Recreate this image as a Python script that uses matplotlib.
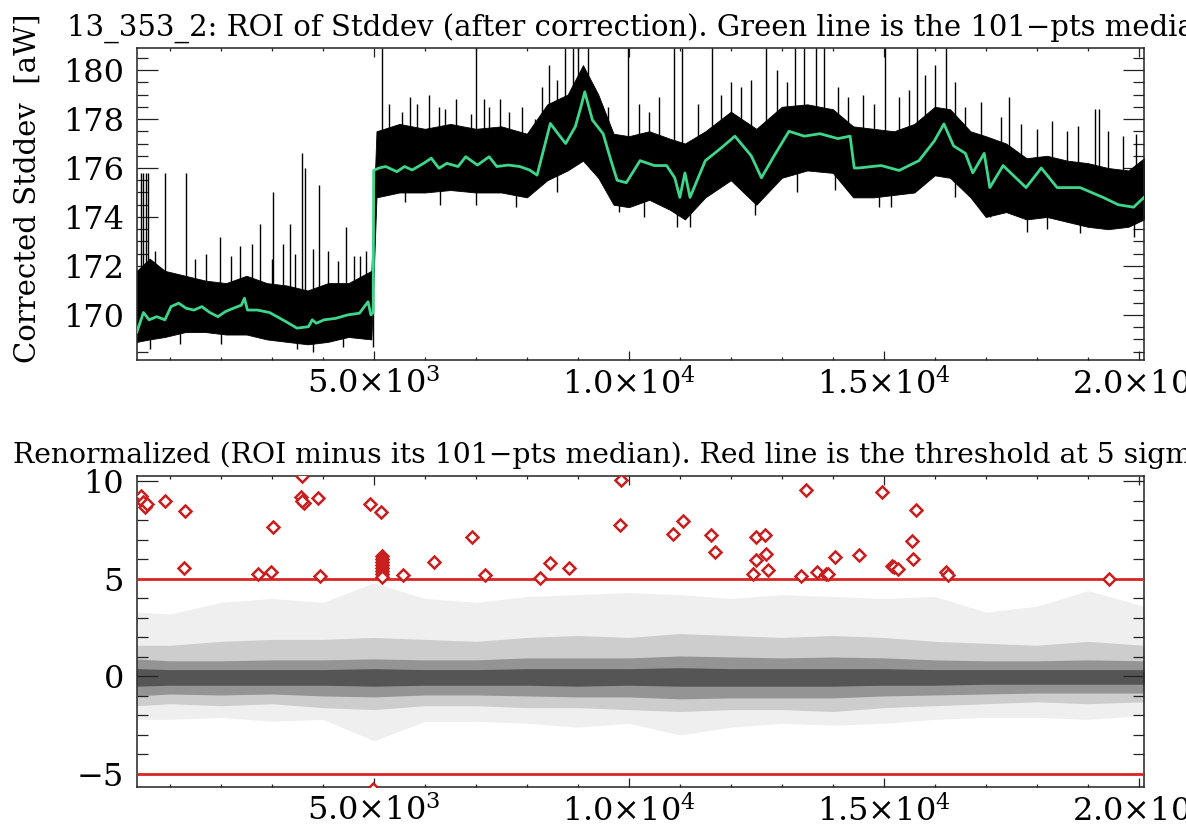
import numpy as np
import matplotlib
matplotlib.use("Agg")
import matplotlib.pyplot as plt
from matplotlib.ticker import FixedLocator, FixedFormatter, MultipleLocator

plt.rcParams['mathtext.fontset'] = 'dejavuserif'
plt.rcParams['font.family'] = 'serif'
plt.rcParams['font.serif'] = ['DejaVu Serif']

# ---------------- top panel: ROI of stddev ----------------
# 101-pts running median (green line)
med_x = [350, 480, 590, 740, 900, 1020, 1170, 1320, 1470, 1625, 1780, 1940, 2090, 2240,
         2400, 2460, 2520, 2710, 2950, 3100, 3330, 3490, 3715, 3790, 3870, 4020, 4250,
         4480, 4715, 4885, 4940, 4985, 4995, 5100, 5230, 5450, 5600, 5750, 5975, 6125,
         6275, 6430, 6650, 6800, 7030, 7260, 7410, 7635, 7860, 8050, 8200, 8310, 8460,
         8610, 8760, 8950, 9060, 9135, 9285, 9495, 9650, 9770, 9950, 10220, 10500, 10740,
         10900, 11000, 11100, 11200, 11500, 11800, 12080, 12400, 12600, 12850, 13140,
         13440, 13750, 14100, 14340, 14420, 14500, 14950, 15300, 15690, 15990, 16180,
         16370, 16600, 16746, 16970, 17080, 17340, 17790, 18090, 18400, 18850, 19300,
         19600, 19900, 20104]
med_y = [169.3, 170.1, 169.8, 169.93, 169.8, 170.34, 170.48, 170.27, 170.2, 170.34, 170.1,
         169.93, 170.14, 170.27, 170.4, 170.68, 170.2, 170.2, 170.1, 169.93, 169.66, 169.46,
         169.52, 169.8, 169.66, 169.8, 169.86, 170.0, 170.07, 170.54, 170.0, 170.1, 175.9,
         176.0, 176.06, 175.85, 176.06, 175.92, 176.19, 176.4, 175.99, 176.19, 176.06,
         176.46, 176.12, 176.46, 176.06, 176.12, 176.06, 175.92, 175.71, 176.6, 177.82,
         177.4, 177.0, 177.69, 178.5, 179.11, 177.96, 177.4, 176.3, 175.5, 175.4, 176.3,
         176.1, 176.1, 175.6, 174.8, 175.8, 174.8, 176.3, 176.8, 177.3, 176.5, 175.6, 176.5,
         177.5, 177.3, 177.4, 177.2, 177.3, 176.0, 176.0, 176.1, 175.9, 176.3, 177.1, 177.8,
         176.9, 176.6, 175.8, 176.6, 175.2, 176.1, 175.2, 176.0, 175.2, 175.2, 174.8, 174.5,
         174.4, 174.8]

# envelope of the dense black trace
env_x = [350, 600, 900, 1300, 1700, 2100, 2500, 2900, 3300, 3700, 4100, 4500, 4950, 5050,
         5500, 6000, 6500, 7000, 7500, 8000, 8400, 8800, 9100, 9400, 9700, 10000, 10400,
         10800, 11100, 11500, 12000, 12500, 13000, 13500, 14000, 14400, 14800, 15200, 15600,
         16000, 16300, 16700, 17000, 17400, 17800, 18200, 18600, 19000, 19400, 19800, 20104]
env_hi = [171.8, 172.3, 171.8, 171.6, 171.4, 171.3, 171.6, 171.3, 171.2, 171.0, 171.3, 171.3,
          171.8, 177.5, 177.8, 177.6, 177.8, 177.6, 177.7, 177.4, 178.6, 179.0, 180.2, 179.0,
          177.4, 177.3, 177.5, 177.2, 177.0, 177.5, 178.3, 177.6, 178.5, 178.6, 178.4, 177.7,
          177.6, 177.5, 177.8, 178.5, 178.4, 177.5, 177.3, 177.0, 176.4, 176.5, 176.3, 176.2,
          176.0, 175.9, 176.4]
env_lo = [168.9, 169.0, 169.1, 169.3, 169.3, 169.2, 169.2, 169.0, 168.9, 168.8, 168.9, 169.1,
          169.0, 174.8, 175.0, 175.0, 175.1, 175.0, 175.0, 174.8, 175.5, 175.9, 176.3, 175.6,
          174.5, 174.4, 174.7, 174.3, 173.9, 174.8, 175.5, 174.5, 175.6, 175.9, 175.8, 174.8,
          174.8, 174.9, 175.0, 175.7, 175.6, 174.8, 174.0, 174.2, 173.9, 174.0, 173.8, 173.6,
          173.5, 173.6, 173.9]

# isolated spikes of the trace (position, tip value)
spike_up_x = [430, 470, 520, 560, 700, 910, 1310, 1500, 1700, 1980, 2200, 2380, 2600, 2770,
              3000, 3030, 3220, 3350, 3450, 3590, 3640, 3800, 3920, 4100, 4300, 4450, 4600,
              4720, 4850, 5160, 5300, 5550, 5700, 5850, 6080, 6270, 6400, 6600, 6900, 7010,
              7150, 7260, 7480, 7650, 7900, 8150, 8300, 8440, 8600, 8750, 8900, 9000, 9200,
              9600, 9990, 10200, 10400, 10600, 10890, 11040, 11350, 11625, 11800, 12000,
              12200, 12400, 12690, 12900, 13100, 13250, 13440, 13670, 13830, 14100, 14300,
              14600, 14800, 15020, 15300, 15500, 15660, 15800, 16000, 16220, 16400, 16600,
              16900, 17300, 17460, 17700, 18000, 18300, 18600, 18800, 19150, 19230, 19400,
              19700, 19950]
spike_up_y = [175.8, 175.8, 175.8, 175.8, 172.6, 175.8, 175.8, 172.3, 172.5, 173.2, 172.4,
              172.8, 172.9, 173.7, 172.3, 175.0, 172.9, 173.7, 172.5, 176.6, 176.0, 172.7,
              175.3, 172.6, 172.2, 173.6, 172.4, 172.4, 172.6, 180.9, 178.6, 178.3, 178.9,
              178.6, 179.0, 178.5, 178.4, 178.8, 178.2, 180.9, 178.8, 178.5, 178.8, 178.3,
              178.5, 178.0, 179.3, 180.2, 179.6, 180.9, 180.9, 180.9, 180.9, 178.5, 180.9,
              178.6, 178.3, 178.9, 180.9, 180.9, 178.6, 180.9, 179.0, 179.5, 179.3, 179.6,
              180.9, 180.0, 179.5, 180.9, 180.9, 180.9, 180.9, 179.3, 178.9, 179.0, 178.6,
              180.9, 178.9, 179.2, 180.9, 179.8, 180.2, 180.9, 179.5, 178.5, 178.7, 178.1,
              178.9, 177.8, 177.6, 177.9, 177.5, 177.7, 178.4, 178.4, 177.5, 177.3, 177.4]
spike_dn_x = [600, 1200, 2000, 3500, 3800, 4400, 4990, 5600, 6300, 7000, 7790, 8600, 9800,
              10300, 10950, 11200, 12480, 13300, 14050, 14900, 15150, 16400, 17085, 17800,
              18200, 18850, 19500, 19900]
spike_dn_y = [168.6, 168.8, 168.8, 168.6, 168.5, 168.7, 168.7, 174.6, 174.5, 174.5, 174.4,
              175.0, 174.2, 174.0, 173.6, 173.6, 174.1, 175.0, 175.1, 174.4, 174.4, 174.8,
              174.0, 173.4, 173.5, 173.35, 173.7, 173.2]

# ---------------- bottom panel: renormalized ----------------
# extent of the dot cloud (dense core, inner, middle and sparse outer parts)
cl_x = [350, 1000, 2000, 3000, 4000, 5000, 6000, 7000, 8000, 9000, 10000, 11000, 12000,
        13000, 14000, 15000, 16000, 17000, 18000, 19000, 20104]
core_hi = [0.4, 0.35, 0.35, 0.35, 0.35, 0.4, 0.35, 0.35, 0.4, 0.4, 0.4, 0.45, 0.4, 0.4, 0.4,
           0.4, 0.35, 0.35, 0.35, 0.35, 0.35]
core_lo = [-0.5, -0.45, -0.45, -0.45, -0.45, -0.5, -0.45, -0.45, -0.45, -0.5, -0.45, -0.5,
           -0.5, -0.5, -0.5, -0.45, -0.45, -0.4, -0.4, -0.4, -0.4]
inner_hi = [0.9, 0.8, 0.8, 0.85, 0.85, 0.9, 0.85, 0.85, 0.95, 0.95, 0.95, 1.05, 1.0, 0.95,
            1.0, 0.95, 0.85, 0.8, 0.8, 0.85, 0.8]
inner_lo = [-1.0, -0.9, -0.95, -0.9, -1.0, -1.05, -0.95, -0.95, -1.0, -1.05, -1.05, -1.15,
            -1.1, -1.1, -1.1, -1.0, -0.95, -0.9, -0.85, -0.85, -0.85]
mid_hi = [1.6, 1.6, 1.8, 1.9, 1.9, 2.0, 1.9, 1.8, 2.0, 2.1, 2.0, 2.2, 2.1, 2.0, 2.1, 2.0,
          1.8, 1.7, 1.6, 1.8, 1.6]
mid_lo = [-1.5, -1.4, -1.5, -1.4, -1.6, -1.7, -1.5, -1.5, -1.6, -1.6, -1.7, -1.8, -1.7,
          -1.7, -1.8, -1.6, -1.5, -1.4, -1.3, -1.4, -1.3]
out_hi = [3.3, 3.2, 3.8, 4.0, 3.8, 4.8, 4.0, 3.8, 4.1, 4.2, 4.3, 4.2, 4.0, 4.2, 4.1, 4.0,
          4.1, 3.3, 3.6, 4.4, 3.6]
out_lo = [-2.2, -2.2, -2.1, -2.3, -2.2, -3.3, -2.3, -2.3, -2.4, -2.6, -2.4, -3.0, -2.6,
          -2.4, -2.5, -2.4, -2.2, -2.1, -2.1, -2.2, -2.0]

# points above threshold (red diamonds)
out_x = [427, 480, 504, 555, 894, 1290, 1275, 2718, 2987, 3025, 3595, 3573, 3619, 3595,
         3903, 3934, 4924, 5143, 5150, 5150, 5150, 5150, 5150, 5150, 5150, 5150, 5563, 6187,
         6930, 7185, 8266, 8460, 8827, 9839, 9826, 10875, 11063, 11612, 11686, 12428, 12489,
         12677, 12489, 12692, 12730, 13384, 13473, 13698, 13857, 13907, 14035, 14509, 14958,
         15168, 15207, 15280, 15551, 15582, 15634, 16220, 16257, 19412, 4985]
out_y = [9.26, 8.96, 8.71, 8.83, 9.0, 8.49, 5.58, 5.27, 5.36, 7.67, 10.28, 9.19, 8.88, 9.0,
         9.14, 5.15, 8.83, 8.44, 6.2, 6.0, 5.85, 5.7, 5.55, 5.4, 5.25, 5.1, 5.22, 5.85, 7.15,
         5.2, 5.07, 5.8, 5.58, 10.1, 7.77, 7.32, 7.99, 7.27, 6.4, 5.26, 7.15, 7.26, 5.97,
         6.27, 5.46, 5.15, 9.56, 5.36, 5.26, 5.26, 6.13, 6.23, 9.46, 5.68, 5.6, 5.5, 6.97,
         6.0, 8.54, 5.36, 5.2, 4.98, -5.75]
threshold = 5

xticks_major = [5000, 10000, 15000, 20000]
xtick_labels = [r'$5.0{\times}10^{3}$', r'$1.0{\times}10^{4}$', r'$1.5{\times}10^{4}$',
                r'$2.0{\times}10^{4}$']
yticks_top = [170, 172, 174, 176, 178, 180]
yticks_bot = [-5, 0, 5, 10]

title_top = '13_353_2: ROI of Stddev (after correction). Green line is the 101\u2212pts median'
title_bot = ('Renormalized (ROI minus its 101\u2212pts median). '
             'Red line is the threshold at 5 sigma')
ylab_top = 'Corrected Stddev  [aW]'

W, H = 1186, 832
fig = plt.figure(figsize=(W / 100, H / 100), dpi=100)
ax1 = fig.add_axes([136.7 / W, 1 - 360 / H, (1144 - 136.7) / W, 312 / H])
ax2 = fig.add_axes([136.7 / W, 1 - 787 / H, (1144 - 136.7) / W, 311 / H])

xlim = (347, 20104)
green = '#3dd68a'
red = '#dc2424'

# top
ax1.fill_between(env_x, env_lo, env_hi, color='black', lw=0.6, zorder=2)
base_up = np.interp(spike_up_x, med_x, med_y)
ax1.vlines(spike_up_x, base_up, spike_up_y, color='black', lw=1.0, zorder=2)
base_dn = np.interp(spike_dn_x, med_x, med_y)
ax1.vlines(spike_dn_x, spike_dn_y, base_dn, color='black', lw=1.0, zorder=2)
ax1.plot(med_x, med_y, color=green, lw=2.0, zorder=3)
ax1.set_xlim(xlim)
ax1.set_ylim(168.16, 180.9)
ax1.yaxis.set_major_locator(FixedLocator(yticks_top))
ax1.yaxis.set_major_formatter(FixedFormatter([str(v) for v in yticks_top]))
ax1.yaxis.set_minor_locator(MultipleLocator(0.5))

# bottom: the dot cloud drawn as graded grey bands
ax2.fill_between(cl_x, out_lo, out_hi, color='#efefef', lw=0, zorder=1)
ax2.fill_between(cl_x, mid_lo, mid_hi, color='#cdcdcd', lw=0, zorder=1)
ax2.fill_between(cl_x, inner_lo, inner_hi, color='#949494', lw=0, zorder=1)
ax2.fill_between(cl_x, core_lo, core_hi, color='#555555', lw=0, zorder=1)
ax2.axhline(threshold, color=red, lw=2.0, zorder=3)
ax2.axhline(-threshold, color=red, lw=2.0, zorder=3)
ax2.plot(out_x, out_y, ls='none', marker='D', ms=6.5, mfc='white', mec='#c81e1e',
         mew=1.8, zorder=4, clip_on=True)
ax2.set_xlim(xlim)
ax2.set_ylim(-5.67, 10.28)
ax2.yaxis.set_major_locator(FixedLocator(yticks_bot))
ax2.yaxis.set_major_formatter(FixedFormatter(['\u22125', '0', '5', '10']))
ax2.yaxis.set_minor_locator(MultipleLocator(1))

for ax in (ax1, ax2):
    ax.xaxis.set_major_locator(FixedLocator(xticks_major))
    ax.xaxis.set_major_formatter(FixedFormatter(xtick_labels))
    ax.xaxis.set_minor_locator(MultipleLocator(1000))
    ax.tick_params(axis='both', which='both', direction='in', top=True, right=True,
                   color='#222222', width=0.9, labelsize=23)
    ax.tick_params(axis='y', which='major', length=14.8, pad=9)
    ax.tick_params(axis='y', which='minor', length=7.6)
    ax.tick_params(axis='x', which='major', length=6.5, pad=6)
    ax.tick_params(axis='x', which='minor', length=2.5)
    for s in ax.spines.values():
        s.set_linewidth(1.1)
        s.set_color('#222222')

fig.text(67 / W, 1 - 37 / H, title_top, fontsize=21, ha='left', va='baseline')
fig.text(13 / W, 1 - 463 / H, title_bot, fontsize=20.3, ha='left', va='baseline')
fig.text(28 / W, 1 - 188 / H, ylab_top, fontsize=21, rotation=90, ha='center', va='center')

fig.savefig('out.png', dpi=100)
